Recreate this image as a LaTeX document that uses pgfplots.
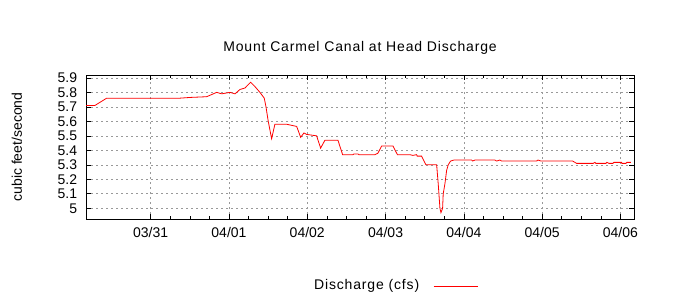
\documentclass[border=0pt]{standalone}
\usepackage{pgfplots}
\pgfplotsset{compat=1.18}
\usepackage{fontspec}
\setmainfont{Liberation Sans}
\newfontfamily\widefont[LetterSpace=6]{Liberation Sans}
\begin{document}
\begin{tikzpicture}[x=1pt,y=1pt]
\fontsize{14}{16}\selectfont
\path[use as bounding box] (0,0) rectangle (700,300);
\begin{axis}[
  at={(86pt,81pt)}, anchor=south west,
  scale only axis, width=548pt, height=144pt,
  xmin=-0.826, xmax=6.174,
  ymin=4.926, ymax=5.92,
  xtick={0,1,2,3,4,5,6},
  xticklabels={03/31,04/01,04/02,04/03,04/04,04/05,04/06},
  minor x tick num=3,
  ytick={5,5.1,5.2,5.3,5.4,5.5,5.6,5.7,5.8,5.9},
  yticklabels={5,5.1,5.2,5.3,5.4,5.5,5.6,5.7,5.8,5.9},
  tick align=inside,
  major tick length=5pt, minor tick length=3pt,
  grid=major,
  major grid style={gray!80, dash pattern=on 2pt off 3pt, line width=0.6pt},
  axis line style={black, line width=0.8pt},
  tick style={black, line width=0.6pt},
  every tick label/.append style={font=\fontsize{14}{14}\selectfont},
  yticklabel style={xshift=-4pt},
  xticklabel style={yshift=-3pt},
  ylabel={cubic feet/second},
  ylabel style={font=\fontsize{14}{14}\selectfont, at={(axis description cs:-0.126,0.5)}, anchor=center},
  title={Mount Carmel Canal at Head Discharge},
  title style={font=\widefont\fontsize{14}{14}\selectfont, yshift=10pt},
  legend style={draw=none, fill=none, at={(0.564,-0.465)}, anchor=center, font=\widefont\fontsize{14}{14}\selectfont},
  legend plot pos=right,
  legend image code/.code={\draw[red, line width=0.8pt] (0pt,0pt) -- (44pt,0pt);},
]
\addplot[red, line width=0.8pt] coordinates {
(-0.826,5.71) (-0.711,5.71) (-0.562,5.76) (-0.392,5.76) (0.374,5.76) (0.502,5.765) (0.715,5.77)
(0.843,5.80) (0.907,5.79) (1.013,5.80) (1.077,5.79) (1.141,5.82) (1.204,5.83) (1.277,5.87)
(1.332,5.84) (1.396,5.80) (1.451,5.76) (1.473,5.70) (1.502,5.60) (1.545,5.48) (1.587,5.58)
(1.737,5.58) (1.865,5.565) (1.916,5.49) (1.958,5.52) (1.992,5.51) (2.120,5.50) (2.171,5.415)
(2.226,5.47) (2.392,5.47) (2.452,5.37) (2.584,5.37) (2.596,5.375) (2.648,5.375) (2.660,5.37)
(2.865,5.37) (2.903,5.38) (2.950,5.43) (3.095,5.43) (3.152,5.37) (3.312,5.37) (3.350,5.365)
(3.397,5.37) (3.405,5.36) (3.461,5.36) (3.516,5.30) (3.653,5.30) (3.673,5.17) (3.695,5.0)
(3.708,4.97) (3.729,5.0) (3.737,5.1) (3.759,5.17) (3.780,5.26) (3.801,5.30) (3.831,5.326)
(3.874,5.333) (4.100,5.333) (4.113,5.326) (4.142,5.333) (4.397,5.333) (4.419,5.326)
(4.461,5.333) (4.483,5.326) (4.930,5.326) (4.946,5.333) (4.985,5.326) (5.390,5.326)
(5.441,5.31) (5.653,5.31) (5.674,5.317) (5.687,5.31) (5.815,5.31) (5.828,5.317) (5.853,5.31)
(5.904,5.31) (5.917,5.317) (6.015,5.317) (6.019,5.31) (6.070,5.31) (6.083,5.317) (6.134,5.317)
};
\addlegendentry{Discharge (cfs)\rule{12pt}{0pt}}
\end{axis}
\end{tikzpicture}
\end{document}
